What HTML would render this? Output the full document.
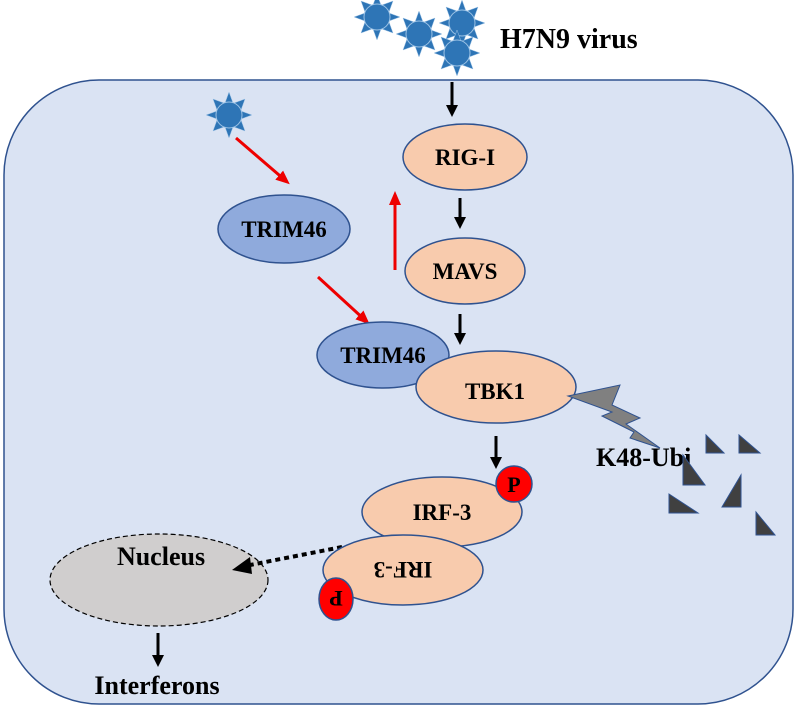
<!DOCTYPE html>
<html><head><style>
body{margin:0;background:#fff;}
svg{display:block;}
text{font-family:"Liberation Serif",serif;font-weight:bold;fill:#000;}
</style></head><body>
<svg width="797" height="710" viewBox="0 0 797 710" xmlns="http://www.w3.org/2000/svg">
<defs>
<marker id="ab" markerWidth="12" markerHeight="12" refX="7" refY="6" orient="auto" markerUnits="userSpaceOnUse"><path d="M0,0 L12,6 L0,12 z" fill="#000"/></marker>
<marker id="ar" markerWidth="14" markerHeight="12" refX="9" refY="6" orient="auto" markerUnits="userSpaceOnUse"><path d="M0,0 L14,6 L0,12 z" fill="#e00"/></marker>
<g id="v">
<g fill="#2e75b6" stroke="#9dc3e6" stroke-width="0.5">
<polygon points="0,-23 4,-12 -4,-12"/><polygon points="0,23 4,12 -4,12"/>
<polygon points="-23,0 -12,4 -12,-4"/><polygon points="23,0 12,4 12,-4"/>
<polygon points="-16,-16 -5,-12 -12,-5"/><polygon points="16,-16 5,-12 12,-5"/>
<polygon points="-16,16 -5,12 -12,5"/><polygon points="16,16 5,12 12,5"/>
</g>
<circle r="13" fill="#2e75b6" stroke="#9dc3e6" stroke-width="1"/>
</g>
</defs>
<rect x="4" y="80" width="789" height="624" rx="95" fill="#dae3f3" stroke="#2f528f" stroke-width="1.5"/>
<use href="#v" x="377" y="17"/>
<use href="#v" x="419" y="34"/>
<use href="#v" x="462" y="23"/>
<use href="#v" x="457" y="53"/>
<use href="#v" x="229" y="115"/>
<text x="500" y="48" font-size="28">H7N9 virus</text>
<g stroke="#000" stroke-width="3" fill="none">
<line x1="452" y1="82" x2="452" y2="112" marker-end="url(#ab)"/>
<line x1="460" y1="198" x2="460" y2="224" marker-end="url(#ab)"/>
<line x1="460" y1="314" x2="460" y2="340" marker-end="url(#ab)"/>
<line x1="496" y1="436" x2="496" y2="464" marker-end="url(#ab)"/>
<line x1="158" y1="633" x2="158" y2="662" marker-end="url(#ab)"/>
</g>
<g stroke="#e00" stroke-width="3" fill="none">
<line x1="236" y1="138" x2="286" y2="181" marker-end="url(#ar)"/>
<line x1="395" y1="270" x2="395" y2="196" marker-end="url(#ar)"/>
<line x1="318" y1="277" x2="366" y2="321" marker-end="url(#ar)"/>
</g>
<g stroke="#2f528f" stroke-width="1.5">
<ellipse cx="465" cy="157" rx="62" ry="33" fill="#f8cbad"/>
<ellipse cx="465" cy="271" rx="60" ry="33" fill="#f8cbad"/>
<ellipse cx="284" cy="229" rx="66" ry="34" fill="#8faadc"/>
<ellipse cx="383" cy="355" rx="66" ry="33" fill="#8faadc"/>
<ellipse cx="496" cy="387" rx="80" ry="36" fill="#f8cbad"/>
</g>
<polygon points="568,396 620,385 612,405 640,418 626,424 660,448 630,438 634,432 602,416 612,412" fill="#808080" stroke="#2f528f" stroke-width="1"/>
<text x="465" y="165" font-size="23" text-anchor="middle">RIG-I</text>
<text x="465" y="279" font-size="23" text-anchor="middle">MAVS</text>
<text x="284" y="237" font-size="23" text-anchor="middle">TRIM46</text>
<text x="383" y="363" font-size="23" text-anchor="middle">TRIM46</text>
<text x="495" y="399" font-size="23" text-anchor="middle">TBK1</text>
<text x="596" y="466" font-size="26">K48-Ubi</text>
<g fill="#404040" stroke="#2f528f" stroke-width="1">
<polygon points="706,435 706,453 724,453"/>
<polygon points="739,435 739,453 760,453"/>
<polygon points="683,455 683,485 705,485"/>
<polygon points="722,507 741,507 741,475"/>
<polygon points="669,494 669,513 698,513"/>
<polygon points="756,512 756,535 775,535"/>
</g>
<ellipse cx="159" cy="580" rx="109" ry="46" fill="#d0cece" stroke="#000" stroke-width="1.2" stroke-dasharray="5,3"/>
<line x1="342" y1="547" x2="250" y2="565" stroke="#000" stroke-width="4" stroke-dasharray="5,4"/>
<polygon points="232,570 250,557 252,574" fill="#000"/>
<g stroke="#2f528f" stroke-width="1.5">
<ellipse cx="442" cy="512" rx="80" ry="35" fill="#f8cbad"/>
<ellipse cx="403" cy="570" rx="80" ry="35" fill="#f8cbad"/>
<circle cx="514" cy="484" r="18" fill="#f00"/>
<ellipse cx="336" cy="599" rx="17" ry="21" fill="#f00"/>
</g>
<text x="442" y="520" font-size="23" text-anchor="middle">IRF-3</text>
<text x="0" y="0" font-size="23" text-anchor="middle" transform="translate(403,562) rotate(180)">IRF-3</text>
<text x="514" y="492" font-size="22" text-anchor="middle">P</text>
<text x="0" y="0" font-size="22" text-anchor="middle" transform="translate(336,591) rotate(180)">P</text>
<text x="161" y="565" font-size="26" text-anchor="middle">Nucleus</text>
<text x="157" y="694" font-size="26" text-anchor="middle">Interferons</text>
</svg>
</body></html>
